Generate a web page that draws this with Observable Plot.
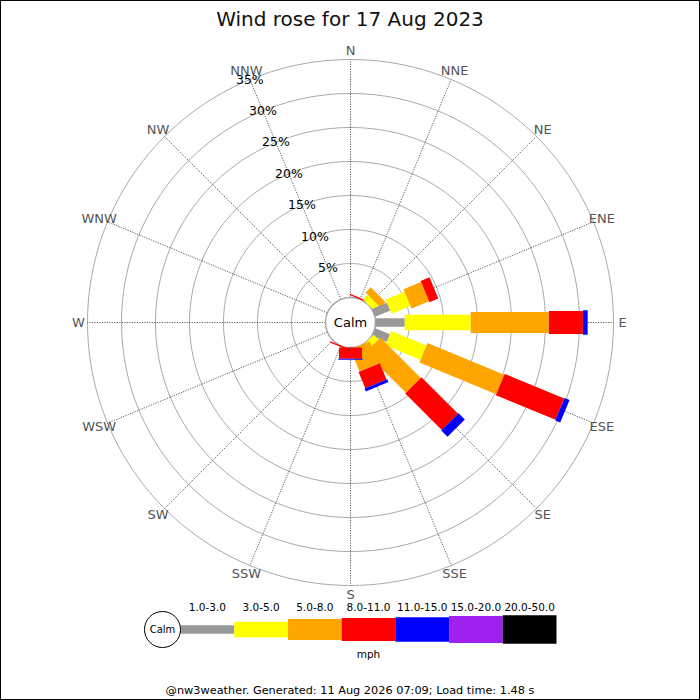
<!DOCTYPE html>
<html><head><meta charset="utf-8">
<script src="https://cdn.jsdelivr.net/npm/d3@7"></script>
<script src="https://cdn.jsdelivr.net/npm/@observablehq/plot@0.6"></script>
<style>
body{margin:0;background:#fff;font-family:"DejaVu Sans",sans-serif;}
#wrap{position:relative;width:700px;height:700px;overflow:hidden;background:#fff;}
#frame{position:absolute;left:0;top:0;width:700px;height:700px;box-sizing:border-box;border:1px solid #000;pointer-events:none;}
#title{height:38px;line-height:38px;font-size:20px;text-align:center;color:#111;}
#footer{box-sizing:content-box;padding-top:13px;height:17px;line-height:16px;font-size:11.3px;text-align:center;color:#000;}
svg{display:block;overflow:visible;}
</style></head>
<body>
<div id="wrap">
  <div id="title">Wind rose for 17 Aug 2023</div>
  <div id="rose"></div>
  <div id="legend"></div>
  <div id="footer">@nw3weather. Generated: 11 Aug 2026 07:09; Load time: 1.48 s</div>
  <div id="frame"></div>
</div>
<script>
// ---------- data ----------
const directions = ["N","NNE","NE","ENE","E","ESE","SE","SSE","S","SSW","SW","WSW","W","WNW","NW","NNW"];
const speedClasses = ["1.0-3.0","3.0-5.0","5.0-8.0","8.0-11.0","11.0-15.0","15.0-20.0","20.0-50.0"];
// percentage of time per direction (N ... NNW) for each speed class (mph)
const pct_1_3   = [0, 0,   0,   2.4, 4.3,  2.35, 0,   0,    0,    0,   0,0,0,0,0,0];
const pct_3_5   = [0, 0,   1.0, 3.0, 9.7,  5.6,  1.0, 0,    0,    0,   0,0,0,0,0,0];
const pct_5_8   = [0, 0,   1.1, 2.8, 11.5, 12.2, 8.4, 3.5,  0,    0,   0,0,0,0,0,0];
const pct_8_11  = [0, 0.2, 0,   1.4, 5.0,  9.5,  7.6, 2.6,  1.65, 0.2, 0,0,0,0,0,0];
const pct_11_15 = [0, 0,   0,   0,   0.7,  0.8,  1.3, 0.45, 0.15, 0,   0,0,0,0,0,0];
const pct_15_20 = [0,0,0,0,0,0,0,0,0,0,0,0,0,0,0,0];
const pct_20_50 = [0,0,0,0,0,0,0,0,0,0,0,0,0,0,0,0];
const ringTicks = [5,10,15,20,25,30,35];
const tickLabels = ["5%","10%","15%","20%","25%","30%","35%"];
const calmLabel = "Calm";
const unitLabel = "mph";

// ---------- styles ----------
const classColors = ["#999999","#ffff00","#ffa500","#ff0000","#0000ff","#a020f0","#000000"];
const classWidths = [8.5, 15.5, 21, 23, 24.5, 27, 28.5];
const PX = 6.8;          // pixels per percent
const CALM_PX = 25;      // calm circle radius in px
const CALM_R = CALM_PX / PX;
const LABEL_PAD = 9 / PX;
const W = 700, H = 562, CY = 284;

const series = [pct_1_3, pct_3_5, pct_5_8, pct_8_11, pct_11_15, pct_15_20, pct_20_50];
const ang = i => i * Math.PI / 8;
const dirData = directions.map((name, i) => ({name, a: ang(i)}));

const segments = [];
directions.forEach((name, i) => {
  let cum = 0;
  series.forEach((s, k) => {
    const v = s[i];
    if (v > 0) segments.push({dir: name, a: ang(i), k, cls: speedClasses[k], r0: CALM_R + cum, r1: CALM_R + cum + v});
    cum += v;
  });
});

const ringPts = [];
ringTicks.forEach(t => {
  for (let deg = 0; deg <= 360; deg += 2) {
    const a = deg * Math.PI / 180;
    ringPts.push({t, x: (CALM_R + t) * Math.sin(a), y: (CALM_R + t) * Math.cos(a)});
  }
});
const maxR = CALM_R + d3.max(ringTicks);
const tickAngle = ang(15); // NNW spoke

const rose = Plot.plot({
  width: W, height: H, margin: 0,
  x: {domain: [-(W/2)/PX, (W/2)/PX], range: [0, W], axis: null},
  y: {domain: [-(H-CY)/PX, CY/PX], range: [H, 0], axis: null},
  color: {domain: speedClasses, range: classColors},
  style: {fontFamily: "DejaVu Sans", background: "transparent"},
  marks: [
    Plot.line(ringPts, {x: "x", y: "y", z: "t", stroke: "#aaaaaa", strokeWidth: 1}),
    Plot.link(dirData, {
      x1: d => CALM_R * Math.sin(d.a), y1: d => CALM_R * Math.cos(d.a),
      x2: d => maxR * Math.sin(d.a), y2: d => maxR * Math.cos(d.a),
      stroke: "#333333", strokeWidth: 0.8, strokeDasharray: "1.2,1.3"
    }),
    Plot.dot([calmLabel], {x: () => 0, y: () => 0, r: CALM_PX, fill: "white", stroke: "#aaaaaa"}),
    Plot.link(segments, {
      x1: d => d.r0 * Math.sin(d.a), y1: d => d.r0 * Math.cos(d.a),
      x2: d => d.r1 * Math.sin(d.a), y2: d => d.r1 * Math.cos(d.a),
      stroke: "cls", strokeWidth: d => classWidths[d.k], strokeLinecap: "butt"
    }),
    Plot.text([calmLabel], {x: () => 0, y: () => 0, text: d => d, fontSize: 13, fill: "#000"}),
    Plot.text(dirData, {
      x: d => (maxR + LABEL_PAD) * Math.sin(d.a), y: d => (maxR + LABEL_PAD) * Math.cos(d.a),
      text: "name", fill: "#555555", fontSize: 13
    }),
    Plot.text(ringTicks, {
      x: (t) => (CALM_R + t) * Math.sin(tickAngle), y: (t) => (CALM_R + t) * Math.cos(tickAngle),
      text: (t, i) => tickLabels[i], fill: "#000", fontSize: 12.5
    })
  ]
});
document.getElementById("rose").appendChild(rose);

const legend = Plot.plot({
  width: W, height: 70, marginLeft: 180, marginRight: 144, marginTop: 0, marginBottom: 0,
  x: {domain: [0, speedClasses.length], axis: null},
  y: {domain: [-1, 1], range: [58, 0], axis: null},
  color: {domain: speedClasses, range: classColors},
  style: {fontFamily: "DejaVu Sans", background: "transparent"},
  marks: [
    Plot.link(speedClasses, {
      x1: (d, i) => i, x2: (d, i) => i + 1, y1: () => 0, y2: () => 0,
      stroke: d => d, strokeWidth: (d, i) => classWidths[i], strokeLinecap: "butt"
    }),
    Plot.dot([calmLabel], {x: () => 0, y: () => 0, r: 18, dx: -18, fill: "white", stroke: "#000", strokeWidth: 1}),
    Plot.text([calmLabel], {x: () => 0, y: () => 0, dx: -18, text: d => d, fontSize: 10, fill: "#000"}),
    Plot.text(speedClasses, {x: (d, i) => i + 0.5, y: () => 0, dy: -22, text: d => d, fontSize: 10.5, fill: "#000"}),
    Plot.text([unitLabel], {x: () => speedClasses.length / 2, y: () => 0, dy: 25, text: d => d, fontSize: 10.5, fill: "#000"})
  ]
});
document.getElementById("legend").appendChild(legend);
</script>
</body></html>
